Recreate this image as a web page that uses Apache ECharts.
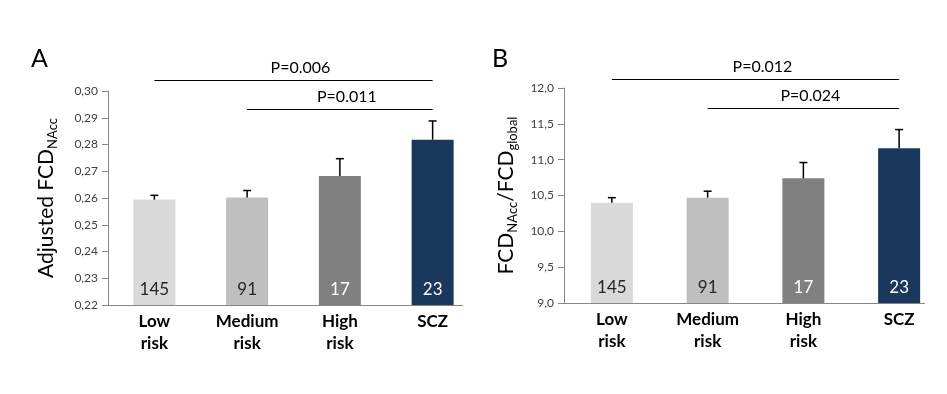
<!DOCTYPE html>
<html>
<head>
<meta charset="utf-8">
<script src="https://cdn.jsdelivr.net/npm/echarts@6/dist/echarts.min.js"></script>
<style>
html,body{margin:0;padding:0;background:#fff;}
#c{width:947px;height:394px;}
</style>
</head>
<body>
<div id="c"></div>
<script>
// ---- data ----
const categories = ['Low\nrisk', 'Medium\nrisk', 'High\nrisk', 'SCZ'];
const counts = [145, 91, 17, 23];
const meanA = [0.2594, 0.2602, 0.2682, 0.2818];
const upperA = [0.2610, 0.2628, 0.2747, 0.2888];
const meanB = [10.40, 10.47, 10.74, 11.16];
const upperB = [10.47, 10.56, 10.96, 11.42];
const axisA = { min: 0.22, max: 0.30, step: 0.01, decimals: 2 };
const axisB = { min: 9.0, max: 12.0, step: 0.5, decimals: 1 };
const bracketsA = [
  { from: 0, to: 3, level: 0.3041, text: 'P=0.006' },
  { from: 1, to: 3, level: 0.2933, text: 'P=0.011' }
];
const bracketsB = [
  { from: 0, to: 3, level: 12.126, text: 'P=0.012' },
  { from: 1, to: 3, level: 11.72, text: 'P=0.024' }
];

// ---- styles ----
const FONT = 'Lato, "Open Sans", sans-serif';
const barColors = ['#d9d9d9', '#bfbfbf', '#808080', '#1a375d'];
const labelColors = ['#262626', '#262626', '#ffffff', '#ffffff'];
const axisGray = '#868686';

const chart = echarts.init(document.getElementById('c'), null, { renderer: 'canvas' });

const grids = [
  { left: 108, top: 91, width: 371, height: 214 },
  { left: 564, top: 88, width: 383, height: 215 }
];

function yAxisFor(ax, gi, name, gap) {
  return {
    type: 'value', gridIndex: gi, min: ax.min, max: ax.max, interval: ax.step,
    axisLine: { show: true, lineStyle: { color: axisGray, width: 1 } },
    axisTick: { show: true, length: 6, lineStyle: { color: axisGray } },
    splitLine: { show: false },
    axisLabel: {
      color: '#404040', fontSize: 12, fontFamily: FONT, margin: 10,
      formatter: v => v.toFixed(ax.decimals).replace('.', ',')
    },
    name: name, nameLocation: 'middle', nameRotate: 90, nameGap: gap,
    nameTextStyle: {
      color: '#000', fontFamily: FONT,
      rich: {
        m: { fontSize: 21, lineHeight: 22, fontFamily: FONT, color: '#000' },
        s: { fontSize: 13, lineHeight: 13, padding: [14, 0, 0, 0], fontFamily: FONT, color: '#000' }
      }
    }
  };
}

function xAxisFor(gi) {
  return {
    type: 'category', gridIndex: gi, data: categories,
    axisLine: { show: false }, axisTick: { show: false },
    axisLabel: { interval: 0, color: '#000', fontWeight: 'bold', fontSize: 17, lineHeight: 22, margin: 6, fontFamily: FONT }
  };
}

function barSeries(gi, means) {
  return {
    type: 'bar', xAxisIndex: gi, yAxisIndex: gi, barWidth: 42, clip: true,
    data: means.map((v, i) => ({
      value: v,
      itemStyle: { color: barColors[i] },
      label: { color: labelColors[i] }
    })),
    label: {
      show: true, position: 'insideBottom', distance: 7, fontSize: 17, fontFamily: FONT,
      formatter: p => String(counts[p.dataIndex])
    }
  };
}

function bracketSeries(gi, brackets) {
  return {
    type: 'custom', xAxisIndex: gi, yAxisIndex: gi, z: 6, clip: false, silent: true,
    data: brackets.map(b => [b.from, b.to, b.level]),
    encode: { x: [0, 1], y: 2 },
    renderItem: (params, api) => {
      const p1 = api.coord([api.value(0), api.value(2)]);
      const p2 = api.coord([api.value(1), api.value(2)]);
      const y = Math.round(p1[1]) + 0.5;
      return {
        type: 'group', children: [
          { type: 'line', shape: { x1: p1[0], y1: y, x2: p2[0], y2: y }, style: { stroke: '#000', lineWidth: 1 } },
          { type: 'text', x: (p1[0] + p2[0]) / 2 + 7, y: y - 5,
            style: { text: brackets[params.dataIndex].text, fill: '#000', fontSize: 16, fontFamily: FONT, align: 'center', verticalAlign: 'bottom' } }
        ]
      };
    }
  };
}

function errSeries(gi, means, uppers) {
  return {
    type: 'custom', xAxisIndex: gi, yAxisIndex: gi, z: 5, clip: false,
    data: means.map((m, i) => [i, m, uppers[i]]),
    encode: { x: 0, y: [1, 2] },
    renderItem: (params, api) => {
      const top = api.coord([api.value(0), api.value(1)]);
      const up = api.coord([api.value(0), api.value(2)]);
      const st = { stroke: '#000', lineWidth: 1.5 };
      return {
        type: 'group', children: [
          { type: 'line', shape: { x1: top[0], y1: top[1], x2: up[0], y2: up[1] }, style: st },
          { type: 'line', shape: { x1: up[0] - 4, y1: up[1], x2: up[0] + 4, y2: up[1] }, style: st }
        ]
      };
    }
  };
}

chart.setOption({
  animation: false,
  textStyle: { fontFamily: FONT },
  title: [
    { text: 'A', left: 26, top: 41, textStyle: { fontSize: 25, fontWeight: 'normal', color: '#000', fontFamily: FONT } },
    { text: 'B', left: 487, top: 41, textStyle: { fontSize: 25, fontWeight: 'normal', color: '#000', fontFamily: FONT } }
  ],
  grid: grids,
  xAxis: [xAxisFor(0), xAxisFor(1)],
  yAxis: [
    yAxisFor(axisA, 0, '{m|Adjusted FCD}{s|NAcc}', 51),
    yAxisFor(axisB, 1, '{m|FCD}{s|NAcc}{m|/FCD}{s|global}', 47)
  ],
  series: [
    barSeries(0, meanA),
    errSeries(0, meanA, upperA),
    bracketSeries(0, bracketsA),
    barSeries(1, meanB),
    errSeries(1, meanB, upperB),
    bracketSeries(1, bracketsB)
  ],
  graphic: grids.map((g, i) => ({
    type: 'line',
    shape: { x1: g.left, y1: g.top + g.height + 0.5, x2: i === 0 ? 463 : 925, y2: g.top + g.height + 0.5 },
    style: { stroke: axisGray, lineWidth: 1 }
  }))
});
</script>
</body>
</html>
